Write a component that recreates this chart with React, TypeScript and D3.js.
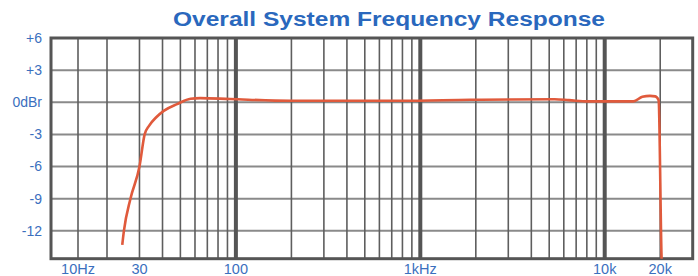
import { useEffect, useRef } from 'react'
import * as d3 from 'd3'

// frequency response
const freqs = [24.2, 24.7, 26.8, 30, 32, 33.8, 37, 40.6, 48, 56.8, 64, 93, 198, 780, 1870, 5350, 6400, 8100, 14300, 16000, 17600, 18800, 19600, 20300, 20800]
const levels = [-13.3, -12, -9, -6, -3, -2.2, -1.4, -0.8, -0.17, 0.33, 0.39, 0.3, 0.14, 0.14, 0.23, 0.28, 0.2, 0.08, 0.08, 0.51, 0.6, 0.55, 0.2, -14, -20]

const yTicks = [6, 3, 0, -3, -6, -9, -12]
const yTickLabels = ['+6', '+3', '0dBr', '-3', '-6', '-9', '-12']
const gridFreqs = [10, 20, 30, 40, 50, 60, 70, 80, 90, 100, 200, 300, 400, 500, 600, 700, 800, 900, 1000, 2000, 3000, 4000, 5000, 6000, 7000, 8000, 9000, 10000, 20000]
const majorFreqs = [100, 1000, 10000]
const xLabelFreqs = [10, 30, 100, 1000, 10000, 20000]
const xLabels = ['10Hz', '30', '100', '1kHz', '10k', '20k']

const W = 698
const H = 276
const margin = { top: 38, right: 5.3, bottom: 17.3, left: 51 }
const blue = '#3b6fbe'
const font = 'Liberation Sans, Arial, sans-serif'

export default function App() {
  const svgRef = useRef<SVGSVGElement>(null)

  useEffect(() => {
    if (!svgRef.current) return
    const innerW = W - margin.left - margin.right
    const innerH = H - margin.top - margin.bottom

    // the 10Hz end of the printed chart is squeezed, so the low octaves get their own segments
    const x = d3.scaleLog()
      .domain([5, 10, 20, 30000])
      .range([0, 27, 56, innerW])
    const y = d3.scaleLinear().domain([-14.6, 6]).range([innerH, 0])

    const svg = d3.select(svgRef.current)
    svg.selectAll('*').remove()

    svg.append('text')
      .attr('x', 173)
      .attr('y', 26)
      .attr('font-family', font)
      .attr('font-weight', 'bold')
      .attr('font-size', 19.5)
      .attr('textLength', 432)
      .attr('lengthAdjust', 'spacingAndGlyphs')
      .attr('fill', '#2a68bd')
      .text('Overall System Frequency Response')

    const g = svg.append('g').attr('transform', `translate(${margin.left},${margin.top})`)

    svg.append('clipPath')
      .attr('id', 'plot-area')
      .append('rect')
      .attr('width', innerW)
      .attr('height', innerH)

    g.append('g')
      .selectAll('line')
      .data(yTicks)
      .join('line')
      .attr('x1', 0)
      .attr('x2', innerW)
      .attr('y1', d => y(d))
      .attr('y2', d => y(d))
      .attr('stroke', '#8a8a8a')
      .attr('stroke-width', 2)

    g.append('g')
      .selectAll('line')
      .data(gridFreqs)
      .join('line')
      .attr('x1', d => x(d))
      .attr('x2', d => x(d))
      .attr('y1', 0)
      .attr('y2', innerH)
      .attr('stroke', d => majorFreqs.includes(d) ? '#555' : '#5e5e5e')
      .attr('stroke-width', d => majorFreqs.includes(d) ? 4 : 1.6)

    g.append('rect')
      .attr('width', innerW)
      .attr('height', innerH)
      .attr('fill', 'none')
      .attr('stroke', '#555')
      .attr('stroke-width', 3)

    const pts = freqs.map((f, i) => [f, levels[i]] as [number, number])
    const line = d3.line<[number, number]>()
      .x(d => x(d[0]))
      .y(d => y(d[1]))
      .curve(d3.curveMonotoneX)

    g.append('path')
      .attr('clip-path', 'url(#plot-area)')
      .attr('d', line(pts))
      .attr('fill', 'none')
      .attr('stroke', '#e05a3c')
      .attr('stroke-width', 2.6)
      .attr('stroke-linejoin', 'round')

    g.append('g')
      .selectAll('text')
      .data(yTicks)
      .join('text')
      .attr('x', -9)
      .attr('y', d => y(d))
      .attr('dy', '0.35em')
      .attr('text-anchor', 'end')
      .attr('font-family', font)
      .attr('font-size', 14)
      .attr('fill', blue)
      .text((d, i) => yTickLabels[i])

    g.append('g')
      .selectAll('text')
      .data(xLabelFreqs)
      .join('text')
      .attr('x', d => x(d))
      .attr('y', innerH + 15.5)
      .attr('text-anchor', 'middle')
      .attr('font-family', font)
      .attr('font-size', 14.5)
      .attr('fill', blue)
      .text((d, i) => xLabels[i])
  }, [])

  return (
    <svg
      ref={svgRef}
      width={W}
      height={H}
      style={{ position: 'absolute', left: 0, top: 0, display: 'block', background: '#fff' }}
    />
  )
}
